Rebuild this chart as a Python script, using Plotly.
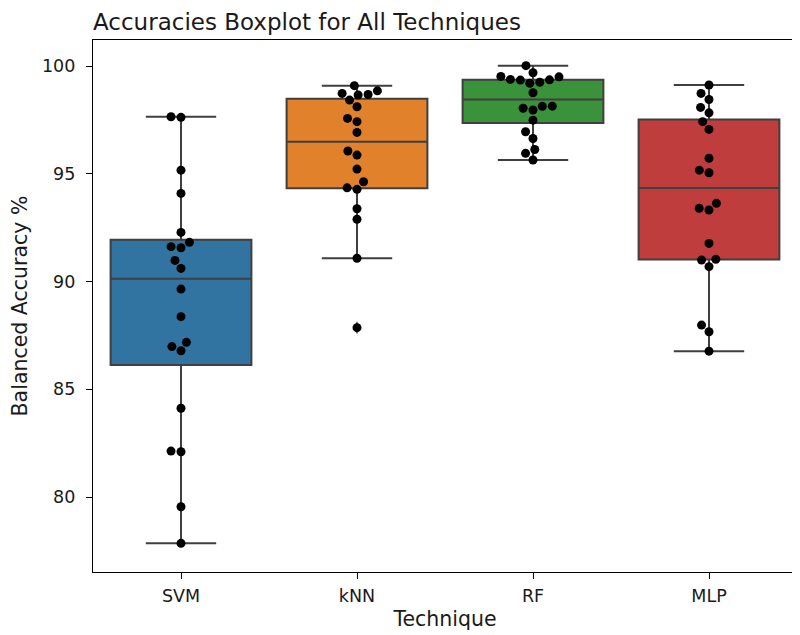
import numpy as np
import plotly.graph_objects as go

techniques = ["SVM", "kNN", "RF", "MLP"]

svm_acc = [97.65, 97.62, 95.17, 94.09, 92.28, 91.82, 91.62, 91.57, 90.98, 90.61,
           89.65, 88.37, 87.18, 86.98, 86.79, 84.12, 82.13, 82.10, 79.55, 77.85]
knn_acc = [99.09, 98.85, 98.73, 98.68, 98.66, 98.42, 98.11, 97.57, 97.42, 96.92,
           96.06, 95.87, 95.22, 94.63, 94.35, 94.28, 93.38, 92.89, 91.08, 87.86]
rf_acc = [100.02, 99.69, 99.52, 99.50, 99.38, 99.36, 99.35, 99.25, 99.20, 98.76,
          98.14, 98.13, 98.04, 97.96, 97.49, 96.95, 96.64, 96.13, 95.95, 95.64]
mlp_acc = [99.12, 98.73, 98.45, 98.08, 97.83, 97.42, 97.06, 95.72, 95.17, 95.05,
           93.63, 93.40, 93.32, 91.77, 91.03, 91.00, 90.69, 87.98, 87.67, 86.77]

series = [svm_acc, knn_acc, rf_acc, mlp_acc]
box_colors = ["#3274a1", "#e1812c", "#3a923a", "#c03d3e"]
edge = "#3f3f3f"

y_tick_vals = [80, 85, 90, 95, 100]
y_range = [76.52, 101.21]

# pixel scales used for the swarm layout
plot_w, plot_h = 704, 532
px_per_x = plot_w / 4.0
px_per_y = plot_h / (y_range[1] - y_range[0])
dot_d = 10.0


def swarm_offsets(values):
    vals = np.asarray(values, dtype=float)
    order = np.argsort(vals, kind="stable")
    placed = []
    offsets = np.zeros(len(vals))
    for idx in order:
        y = vals[idx] * px_per_y
        neigh = [(px, py) for px, py in placed if abs(py - y) < dot_d]
        cands = [0.0]
        for px, py in neigh:
            dx = np.sqrt(max(dot_d ** 2 - (py - y) ** 2, 0.0))
            cands.append(px - dx)
            cands.append(px + dx)
        cands_sorted = sorted(enumerate(cands), key=lambda t: (round(abs(t[1]), 6), t[0]))
        chosen = 0.0
        for _, c in cands_sorted:
            ok = True
            for px, py in neigh:
                if (c - px) ** 2 + (y - py) ** 2 < dot_d ** 2 - 1e-6:
                    ok = False
                    break
            if ok:
                chosen = c
                break
        placed.append((chosen, y))
        offsets[idx] = chosen
    return offsets / px_per_x


fig = go.Figure()

for i, (name, vals, col) in enumerate(zip(techniques, series, box_colors)):
    v = np.asarray(vals)
    q1, med, q3 = np.percentile(v, [25, 50, 75])
    iqr = q3 - q1
    lo = v[v >= q1 - 1.5 * iqr].min()
    hi = v[v <= q3 + 1.5 * iqr].max()
    fig.add_trace(go.Box(
        x=[i], q1=[q1], median=[med], q3=[q3], lowerfence=[lo], upperfence=[hi],
        width=0.8, whiskerwidth=0.5, fillcolor=col,
        line=dict(color=edge, width=2), boxpoints=False, showlegend=False,
        name=name,
    ))
    out = v[(v < lo) | (v > hi)]
    if len(out):
        fig.add_trace(go.Scatter(
            x=[i] * len(out), y=out, mode="markers",
            marker=dict(symbol="diamond-tall", size=9, color=edge),
            showlegend=False, hoverinfo="skip"))

for i, vals in enumerate(series):
    offs = swarm_offsets(vals)
    fig.add_trace(go.Scatter(
        x=i + offs, y=vals, mode="markers",
        marker=dict(color="black", size=9, line=dict(width=0)),
        showlegend=False))

font_family = "DejaVu Sans"
# the page body adds an 8px offset, so the figure is 8px smaller than the window
fig_w, fig_h = 792, 627
fig.update_layout(
    width=fig_w, height=fig_h,
    margin=dict(l=85, r=3, t=32, b=63, autoexpand=False),
    plot_bgcolor="white", paper_bgcolor="white",
    boxmode="overlay",
    font=dict(family=font_family, color="#1a1a1a", size=17.5),
    title=dict(text="Accuracies Boxplot for All Techniques",
               font=dict(family=font_family, size=23, color="#1a1a1a"),
               x=0, xref="paper", xanchor="left",
               y=1 - 14 / fig_h, yref="container", yanchor="middle"),
    xaxis=dict(range=[-0.5, 3.5], tickvals=list(range(4)), ticktext=techniques,
               showgrid=False, zeroline=False, showline=True, mirror=True,
               linecolor="black", linewidth=1.3, ticks="outside", ticklen=6,
               tickcolor="black", tickwidth=1.3, ticklabelstandoff=2,
               automargin=False,
               title=dict(text="Technique", font=dict(size=20.5), standoff=6)),
    yaxis=dict(range=y_range, tickvals=y_tick_vals,
               showgrid=False, zeroline=False, showline=True, mirror=True,
               linecolor="black", linewidth=1.3, ticks="outside", ticklen=6,
               tickcolor="black", tickwidth=1.3, ticklabelstandoff=7,
               automargin=False,
               title=dict(text="Balanced Accuracy %", font=dict(size=20.5), standoff=8)),
)

fig.write_html("out.html")
